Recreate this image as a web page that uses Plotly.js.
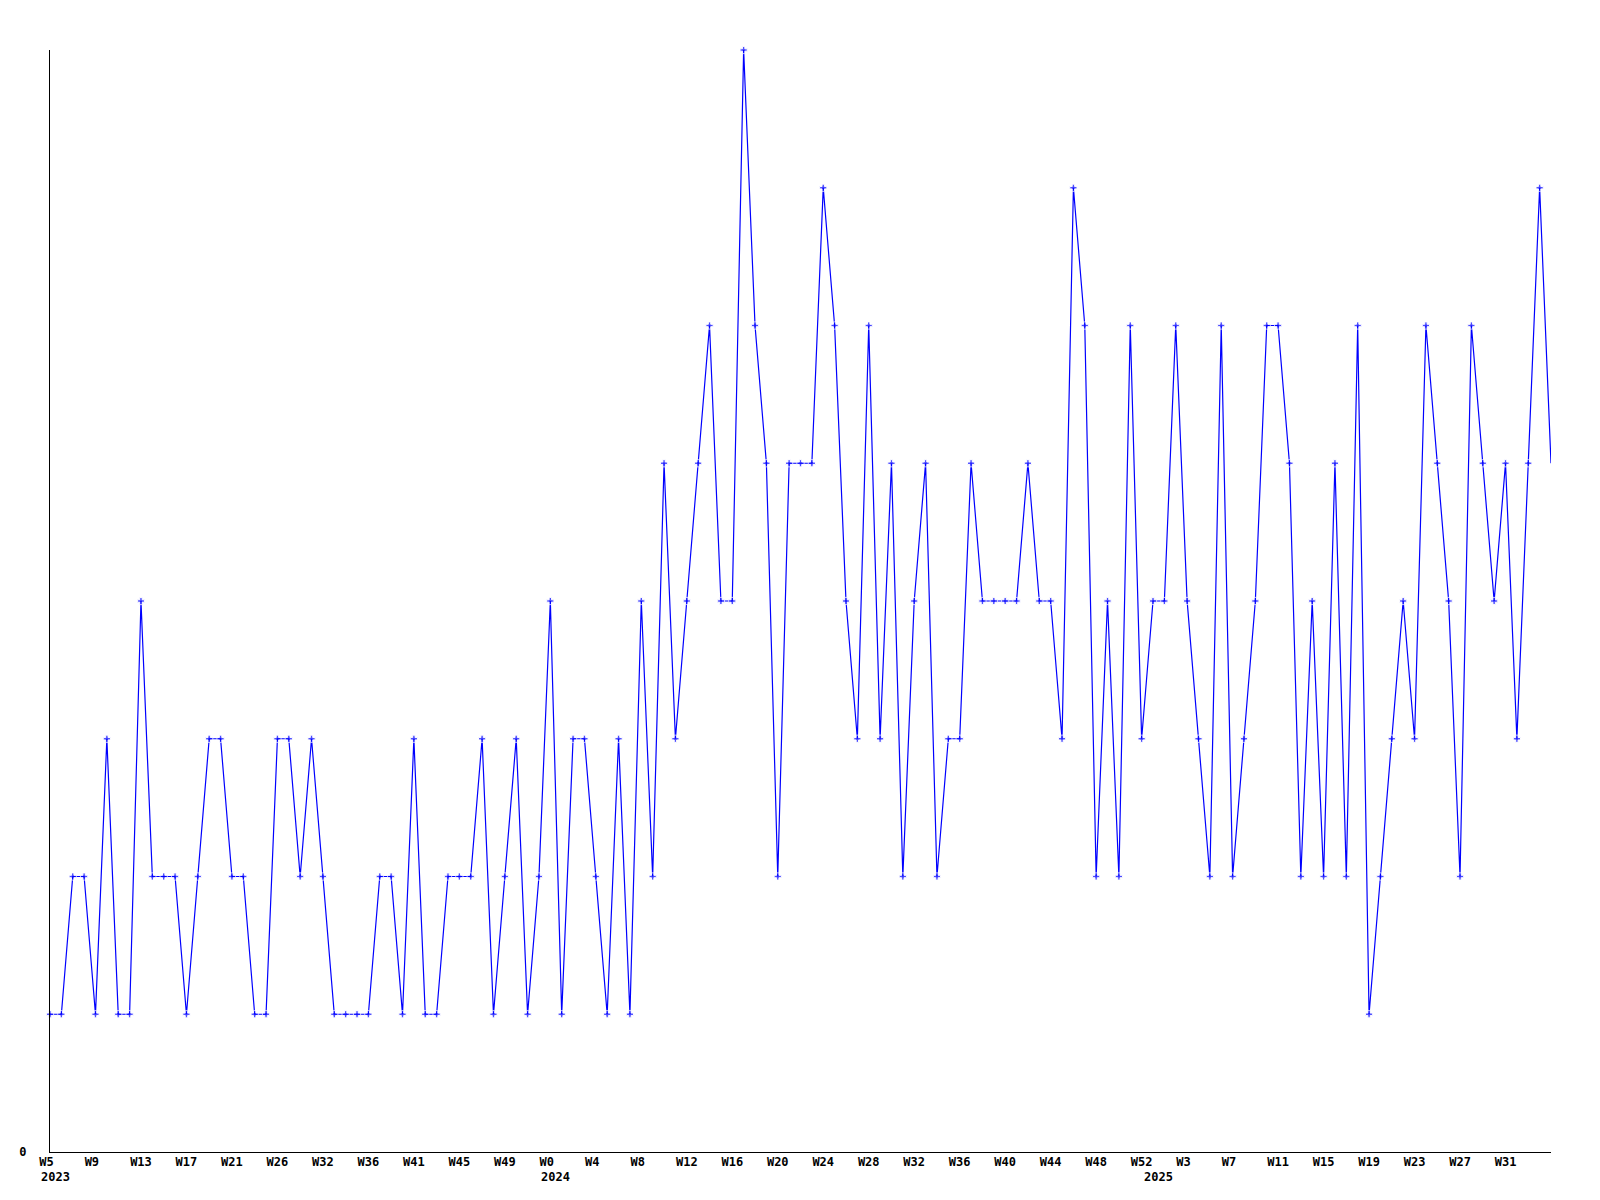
<!DOCTYPE html>
<html>
<head>
<meta charset="utf-8">
<script src="https://cdn.plot.ly/plotly-3.0.1.min.js"></script>
<style>html,body{margin:0;padding:0;background:#fff;}#chart{width:1600px;height:1200px;}</style>
</head>
<body>
<div id="chart"></div>
<script>
// Weekly values, 2023 W5 .. 2025 (one value per week point)
const values = [
  1,1,2,2,1,3,1,1,4,2,
  2,2,1,2,3,3,2,2,1,1,
  3,3,2,3,2,1,1,1,1,2,
  2,1,3,1,1,2,2,2,3,1,
  2,3,1,2,4,1,3,3,2,1,
  3,1,4,2,5,3,4,5,6,4,
  4,8,6,5,2,5,5,5,7,6,
  4,3,6,3,5,2,4,5,2,3,
  3,5,4,4,4,4,5,4,4,3,
  7,6,2,4,2,6,3,4,4,6,
  4,3,2,6,2,3,4,6,6,5,
  2,4,2,5,2,6,1,2,3,4,
  3,6,5,4,2,6,5,4,5,3,
  5,7,5
];
// Week tick labels, one every 4 points
const weekTicks = ["W5","W9","W13","W17","W21","W26","W32","W36","W41","W45","W49",
  "W0","W4","W8","W12","W16","W20","W24","W28","W32","W36","W40","W44","W48","W52",
  "W3","W7","W11","W15","W19","W23","W27","W31"];
const tickStep = 4;
// Year labels and the point index where each year begins
const years = ["2023","2024","2025"];
const yearStartIdx = [0, 44, 97];
const yTickVals = [0];
const yTickText = ["0"];

const xs = values.map((v, i) => i);
const tickvals = weekTicks.map((t, k) => k * tickStep);
const ticktext = weekTicks.map(t => t.length < 3 ? t + "\u00A0" : t);
const markerSizes = values.map((v, i) => i === values.length - 1 ? 0 : 6);

const font = {family: "DejaVu Sans Mono", size: 12, color: "#000", weight: "bold"};

const trace = {
  x: xs, y: values, type: "scatter", mode: "lines+markers",
  line: {color: "#0000ff", width: 1.2},
  marker: {symbol: "cross", size: markerSizes, color: "#0000ff"},
  cliponaxis: false, hoverinfo: "skip"
};

const annotations = years.map((y, k) => ({
  x: yearStartIdx[k], xref: "x", y: 0, yref: "paper",
  text: y, showarrow: false, xanchor: "left", yanchor: "middle",
  xshift: -11, yshift: -25, font: font
}));

const layout = {
  width: 1600, height: 1200,
  margin: {l: 50, r: 49, t: 50, b: 48},
  paper_bgcolor: "#fff", plot_bgcolor: "#fff",
  showlegend: false,
  font: font,
  xaxis: {
    range: [0, values.length - 1], showgrid: false, zeroline: false,
    showline: true, linecolor: "#000", linewidth: 1, ticks: "",
    tickmode: "array", tickvals: tickvals, ticktext: ticktext,
    tickfont: font, tickangle: 0, ticklabelstandoff: -1
  },
  yaxis: {
    range: [0, 8], showgrid: false, zeroline: false,
    showline: true, linecolor: "#000", linewidth: 1, ticks: "",
    tickmode: "array", tickvals: yTickVals, ticktext: yTickText,
    tickfont: font, ticklabelstandoff: 20
  },
  annotations: annotations
};

Plotly.newPlot("chart", [trace], layout, {displayModeBar: false, staticPlot: true});
</script>
</body>
</html>
